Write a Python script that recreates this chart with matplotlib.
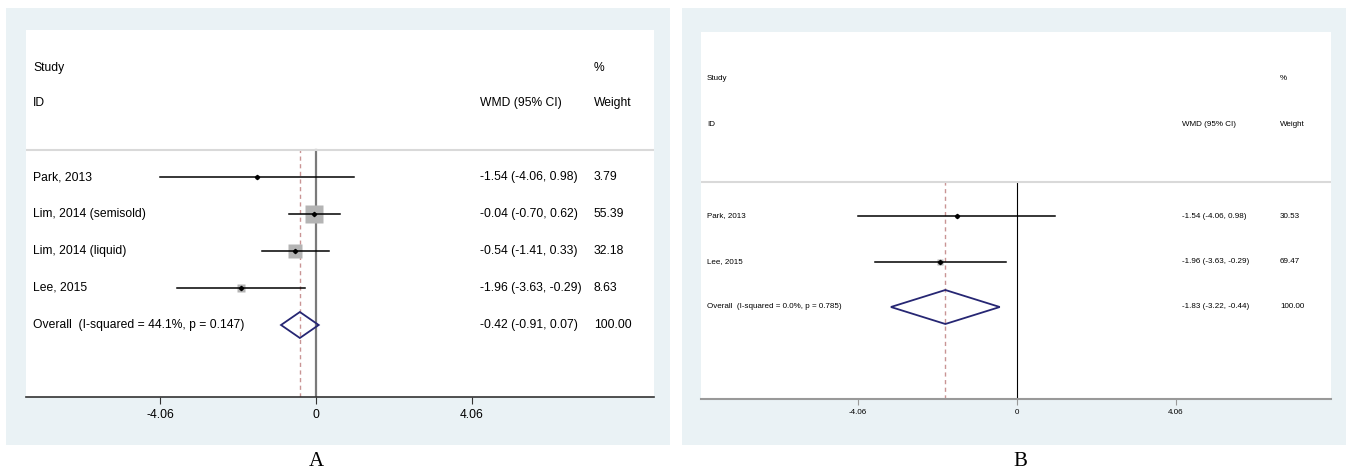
'''
Forest plots (WMD, 95% CI) in two panels, A and B, drawn with matplotlib
'''
import matplotlib
matplotlib.use('Agg')
import matplotlib.pyplot as plt
from matplotlib.patches import Polygon

plt.rcParams['font.family'] = ['Liberation Sans', 'DejaVu Sans']

# panel A data
studies_a = ['Park, 2013', 'Lim, 2014 (semisold)', 'Lim, 2014 (liquid)', 'Lee, 2015']
est_a = [-1.54, -0.04, -0.54, -1.96]
lo_a = [-4.06, -0.70, -1.41, -3.63]
hi_a = [0.98, 0.62, 0.33, -0.29]
w_a = [3.79, 55.39, 32.18, 8.63]
overall_label_a = 'Overall  (I-squared = 44.1%, p = 0.147)'
overall_a = [-0.42, -0.91, 0.07]

# panel B data
studies_b = ['Park, 2013', 'Lee, 2015']
est_b = [-1.54, -1.96]
lo_b = [-4.06, -3.63]
hi_b = [0.98, -0.29]
w_b = [30.53, 69.47]
overall_label_b = 'Overall  (I-squared = 0.0%, p = 0.785)'
overall_b = [-1.83, -3.22, -0.44]

ticks = [-4.06, 0, 4.06]
tick_labels = ['-4.06', '0', '4.06']

W, H = 1347, 474
fig = plt.figure(figsize=(W / 100, H / 100), dpi=100)
fig.patch.set_facecolor('white')

BG = '#eaf2f5'


def px_rect(x0, y0, x1, y1):
    # pixel box (top-left origin) -> figure fraction [l, b, w, h]
    return [x0 / W, 1 - y1 / H, (x1 - x0) / W, (y1 - y0) / H]


def forest(ax, names, est, lo, hi, w, olabel, ov, cfg):
    n = len(names)
    ax.set_xlim(cfg['xlim'])
    ax.set_ylim(cfg['ylim'])
    ax.set_facecolor('white')
    for s in ['top', 'left', 'right']:
        ax.spines[s].set_visible(False)
    ax.spines['bottom'].set_color(cfg['axcol'])
    ax.spines['bottom'].set_linewidth(cfg['axlw'])
    ax.set_yticks([])
    ax.set_xticks(ticks)
    ax.set_xticklabels(tick_labels, fontsize=cfg['fs'])
    ax.tick_params(axis='x', length=cfg['ticklen'], width=0.8, color=cfg['axcol'], pad=cfg['pad'])

    fs = cfg['fs']
    xl, xw, xp = cfg['cols']
    # header
    ax.text(xl, cfg['y_study'], 'Study', fontsize=fs, va='center')
    ax.text(xp, cfg['y_study'], '%', fontsize=fs, va='center')
    ax.text(xl, cfg['y_id'], 'ID', fontsize=fs, va='center')
    ax.text(xw, cfg['y_id'], 'WMD (95% CI)', fontsize=fs, va='center')
    ax.text(xp, cfg['y_id'], 'Weight', fontsize=fs, va='center')
    ax.axhline(cfg['y_sep'], color='#d9d9d9', lw=1.5)

    ybot = cfg['ylim'][0]
    ax.plot([0, 0], [ybot, cfg['y_sep']], color=cfg['zcol'], lw=cfg['zlw'], zorder=1)
    ax.plot([ov[0], ov[0]], [ybot, cfg['y_sep']], color='#c99494', lw=1.0,
            dashes=(3, 2.5), zorder=1)

    for i in range(n):
        y = -i
        side = cfg['k'] * w[i] ** 0.5 * 0.72
        ax.plot(est[i], y, marker='s', ms=side, color='#b4b4b4', mec='none', zorder=2)
        ax.plot([lo[i], hi[i]], [y, y], color='black', lw=1.1, zorder=3)
        ax.plot(est[i], y, marker='D', ms=2.2, color='black', zorder=4)
        ax.text(xl, y, names[i], fontsize=fs, va='center')
        ax.text(xw, y, '%.2f (%.2f, %.2f)' % (est[i], lo[i], hi[i]), fontsize=fs, va='center')
        ax.text(xp, y, '%.2f' % w[i], fontsize=fs, va='center')

    y = -n
    h = cfg['dh']
    ax.add_patch(Polygon([(ov[1], y), (ov[0], y + h), (ov[2], y), (ov[0], y - h)],
                         closed=True, fill=False, ec='#262673', lw=1.3, zorder=5))
    ax.text(xl, y, olabel, fontsize=fs, va='center')
    ax.text(xw, y, '%.2f (%.2f, %.2f)' % tuple(ov), fontsize=fs, va='center')
    ax.text(xp, y, '100.00', fontsize=fs, va='center')


# light blue backgrounds behind each panel
for x0, x1 in [(6, 670), (682, 1346)]:
    bg = fig.add_axes(px_rect(x0, 8, x1, 445), zorder=-1)
    bg.set_facecolor(BG)
    bg.set_xticks([])
    bg.set_yticks([])
    for s in bg.spines.values():
        s.set_visible(False)

# panel A : rows 37 px apart, first row at y=177 px
rowA, y0A = 37.0, 177.0
axA = fig.add_axes(px_rect(26, 30, 654, 397))
forest(axA, studies_a, est_a, lo_a, hi_a, w_a, overall_label_a, overall_a, dict(
    xlim=((26 - 316) / 38.42, (654 - 316) / 38.42),
    ylim=(-(397 - y0A) / rowA, (y0A - 30) / rowA),
    cols=((33 - 316) / 38.42, (480 - 316) / 38.42, (594 - 316) / 38.42),
    y_study=(y0A - 68) / rowA, y_id=(y0A - 103) / rowA, y_sep=(y0A - 150) / rowA,
    fs=8.7, k=2.42, dh=13 / rowA, axcol='#333333', axlw=1.2, zcol='#7a7a7a', zlw=1.6,
    ticklen=5, pad=4))

# panel B : rows 45.5 px apart, first row at y=216 px
rowB, y0B = 45.5, 216.0
axB = fig.add_axes(px_rect(701, 32, 1331, 399))
forest(axB, studies_b, est_b, lo_b, hi_b, w_b, overall_label_b, overall_b, dict(
    xlim=((701 - 1017) / 39.16, (1331 - 1017) / 39.16),
    ylim=(-(399 - y0B) / rowB, (y0B - 32) / rowB),
    cols=((707 - 1017) / 39.16, (1182 - 1017) / 39.16, (1280 - 1017) / 39.16),
    y_study=(y0B - 78) / rowB, y_id=(y0B - 125) / rowB, y_sep=(y0B - 182) / rowB,
    fs=5.8, k=0.75, dh=17 / rowB, axcol='#999999', axlw=1.5, zcol='black', zlw=0.8,
    ticklen=4, pad=3))

fig.text(316 / W, 1 - 462 / H, 'A', fontsize=15, family=['Liberation Serif', 'DejaVu Serif'],
         ha='center', va='center')
fig.text(1020 / W, 1 - 462 / H, 'B', fontsize=15, family=['Liberation Serif', 'DejaVu Serif'],
         ha='center', va='center')

fig.savefig('out.png', dpi=100)
